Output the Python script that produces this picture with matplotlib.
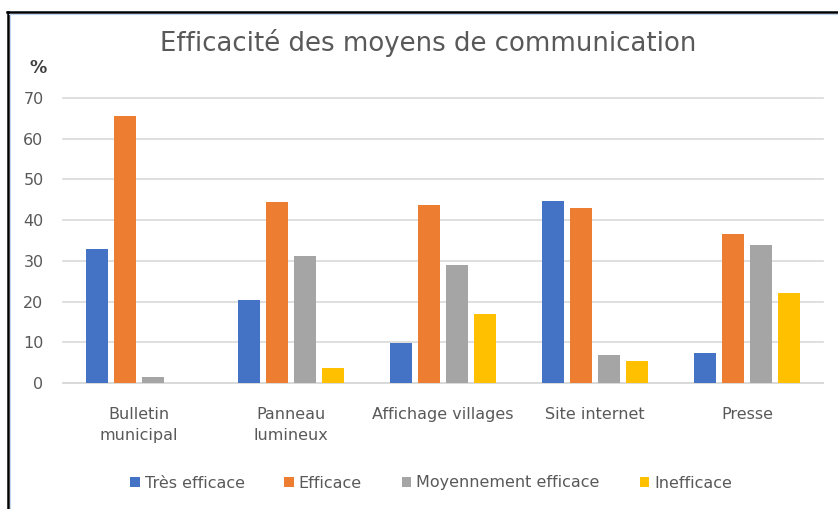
import matplotlib
matplotlib.use("Agg")
import matplotlib.pyplot as plt
import numpy as np
from matplotlib.lines import Line2D
from matplotlib.patches import Patch

categories = ["Bulletin\nmunicipal", "Panneau\nlumineux", "Affichage villages", "Site internet", "Presse"]
series_names = ["Très efficace", "Efficace", "Moyennement efficace", "Inefficace"]
tres_efficace = [32.8, 20.3, 9.9, 44.6, 7.3]
efficace = [65.6, 44.4, 43.8, 43.0, 36.6]
moyennement = [1.5, 31.3, 29.1, 7.0, 34.0]
inefficace = [0.0, 3.8, 17.0, 5.3, 22.0]
yticks = [0, 10, 20, 30, 40, 50, 60, 70]
title = "Efficacité des moyens de communication"

colors = ["#4472C4", "#ED7D31", "#A5A5A5", "#FFC000"]
txt = "#595959"
plt.rcParams['font.family'] = ['DejaVu Sans']

fig = plt.figure(figsize=(8.38, 5.09), dpi=100)
W, H = 838, 509
ax = fig.add_axes([63 / W, 1 - 383 / H, (823 - 63) / W, (383 - 98) / H])

x = np.arange(len(categories))
pitch = 0.184
width = 0.145
data = [tres_efficace, efficace, moyennement, inefficace]
for i, (vals, c, name) in enumerate(zip(data, colors, series_names)):
    ax.bar(x + (i - 1.5) * pitch, vals, width, color=c, label=name, zorder=3)

ax.set_xlim(-0.5, len(categories) - 0.5)
ax.set_ylim(0, 70)
ax.set_yticks(yticks)
ax.set_xticks(x)
ax.set_xticklabels(categories, linespacing=1.5)
ax.grid(axis='y', color='#D9D9D9', linewidth=1.2, zorder=0)
for gl in ax.get_ygridlines():
    gl.set_clip_on(False)
for s in ['top', 'right', 'left']:
    ax.spines[s].set_visible(False)
ax.spines['bottom'].set_color('#D9D9D9')
ax.spines['bottom'].set_linewidth(1.2)
ax.tick_params(axis='both', length=0, labelsize=11.5, labelcolor=txt)
ax.tick_params(axis='x', pad=17)
ax.tick_params(axis='y', pad=14)

fig.text(428 / W, 1 - 51 / H, title, ha='center', va='baseline', fontsize=18.7, color=txt)
fig.text(38 / W, 1 - 68 / H, "%", ha='center', va='center', fontsize=12.5, color='#404040', fontweight='bold')

handles = [Patch(facecolor=c, edgecolor='none', label=n) for c, n in zip(colors, series_names)]
fig.legend(handles=handles, loc='center', bbox_to_anchor=(431 / W, 1 - 483 / H), ncol=4, frameon=False,
           fontsize=11.5, labelcolor=txt, handlelength=0.6, handleheight=0.6, handletextpad=0.3,
           columnspacing=2.5)

# frame border (top and left edges visible)
fig.add_artist(Line2D([7 / W, 1], [1 - 12 / H, 1 - 12 / H], color='black', linewidth=1.8, transform=fig.transFigure))
fig.add_artist(Line2D([7.5 / W, 7.5 / W], [0, 1 - 12 / H], color='black', linewidth=1.8, transform=fig.transFigure))
fig.add_artist(Line2D([9 / W, 1], [1 - 14 / H, 1 - 14 / H], color='#BDD7EE', linewidth=0.8, transform=fig.transFigure))
fig.add_artist(Line2D([9.5 / W, 9.5 / W], [0, 1 - 14 / H], color='#BDD7EE', linewidth=0.8, transform=fig.transFigure))

fig.savefig("out.png", dpi=100)
